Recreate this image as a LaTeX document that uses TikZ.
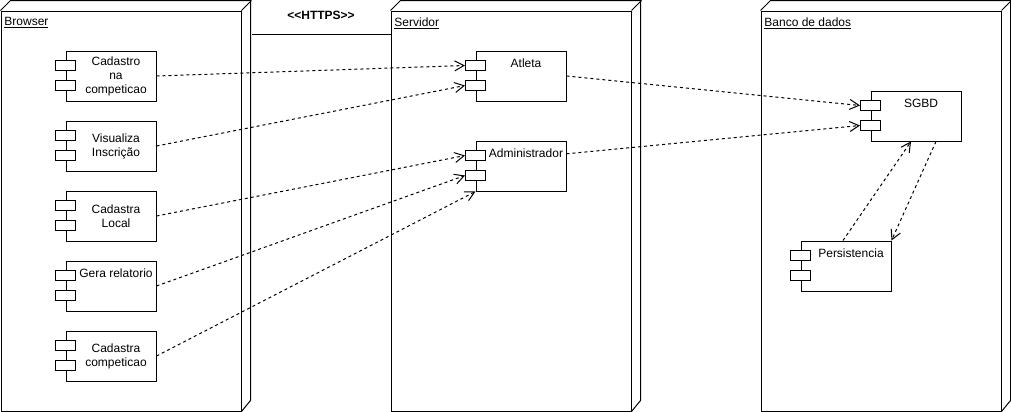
\documentclass[tikz,border=0pt]{standalone}
\usepackage{fontspec}
\setmainfont{Liberation Sans}
\usetikzlibrary{arrows.meta}
\tikzset{
  dnode/.style={draw, minimum width=180pt, minimum height=300pt, anchor=north west, inner sep=0pt},
  title/.style={anchor=north west, font=\fontsize{9}{10.5}\selectfont},
  comp/.style={draw, fill=white, minimum width=67.5pt, minimum height=37.5pt, anchor=north west, inner sep=0pt},
  port/.style={draw, fill=white, minimum width=15pt, minimum height=7.5pt, inner sep=0pt},
  ctext/.style={align=center, xshift=3.75pt, font=\fontsize{9}{10.5}\selectfont},
  ttext/.style={anchor=north, xshift=3.75pt, yshift=-2.5pt, font=\fontsize{9}{10.5}\selectfont},
  dep/.style={dash pattern=on 2.25pt off 2.25pt, -{Straight Barb[length=7pt, width=7.5pt]}}
}
\begin{document}
\begin{tikzpicture}[x=0.75pt, y=-0.75pt, line width=0.75pt]
\useasboundingbox (0,0) rectangle (1011,411);
% deployment nodes
\node[dnode] (browser) at (0.5,10.5) {};
\node[dnode] (servidor) at (390.5,10.5) {};
\node[dnode] (banco) at (760.5,10.5) {};
\foreach \d in {browser,servidor,banco}{
  \draw (\d.north west) -- ++(10,-10) -- ++(240,0) -- ++(0,400) -- (\d.south east);
  \draw (\d.north east) -- ++(10,-10);
}
\node[title] at ([shift={(-1,2)}]browser.north west) {\underline{Browser}};
\node[title] at ([shift={(-1,2)}]servidor.north west) {\underline{Servidor}};
\node[title] at ([shift={(-1,2)}]banco.north west) {\underline{Banco de dados}};
% link
\draw ([shift={(10,24)}]browser.north east) -- node[above=7.5pt, font=\bfseries\fontsize{9}{10.5}\selectfont]{<\kern0pt<HTTPS>\kern0pt>} ([shift={(0,24)}]servidor.north west);
% components
\node[comp, label={[ctext]center:{Cadastro\\na\\competicao}}] (cad) at (65.5,50.5) {};
\node[comp, label={[ctext]center:{Visualiza\\Inscrição}}] (vis) at (65.5,120.5) {};
\node[comp, label={[ctext]center:{Cadastra\\Local}}] (loc) at (65.5,190.5) {};
\node[comp, label={[ttext]north:Gera relatorio}] (gera) at (65.5,260.5) {};
\node[comp, label={[ctext]center:{Cadastra\\competicao}}] (cmp) at (65.5,330.5) {};
\node[comp, label={[ttext]north:Atleta}] (atleta) at (475.5,50.5) {};
\node[comp, label={[ttext]north:Administrador}] (admin) at (475.5,140.5) {};
\node[comp, label={[ttext]north:SGBD}] (sgbd) at (870.5,90.5) {};
\node[comp, label={[ttext]north:Persistencia}] (pers) at (800.5,240.5) {};
\foreach \c in {cad,vis,loc,gera,cmp,atleta,admin,sgbd,pers}{
  \node[port] (\c-p1) at ([shift={(0,15)}]\c.north west) {};
  \node[port] (\c-p2) at ([shift={(0,35)}]\c.north west) {};
}
% dependencies
\draw[dep] (cad.east) -- (atleta-p1.west);
\draw[dep] (vis.east) -- (atleta-p2.west);
\draw[dep] (loc.east) -- (admin-p1.west);
\draw[dep] (gera.east) -- (admin-p2.west);
\draw[dep] (cmp.east) -- (admin.south west);
\draw[dep] (atleta.east) -- (sgbd-p1.west);
\draw[dep] (admin.15) -- (sgbd-p2.west);
\draw[dep] ([shift={(-3,0)}]pers.north) -- ([shift={(-5,0)}]sgbd.south);
\draw[dep] ([shift={(20,0)}]sgbd.south) -- (pers.north east);
\end{tikzpicture}
\end{document}
